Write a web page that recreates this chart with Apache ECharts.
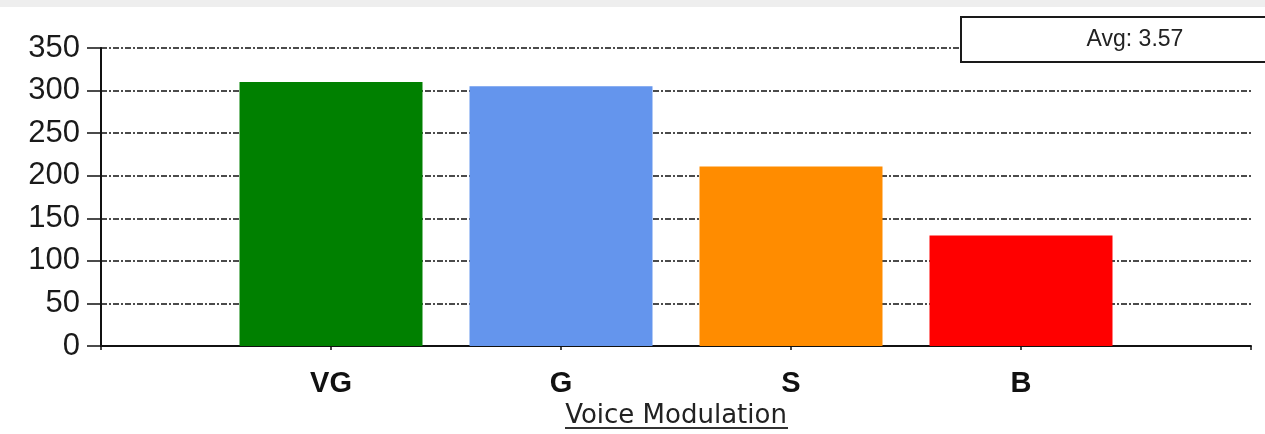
<!DOCTYPE html>
<html><head><meta charset="utf-8">
<script src="https://cdn.jsdelivr.net/npm/echarts@6/dist/echarts.min.js"></script>
<style>html,body{margin:0;padding:0;background:#fff}#c{width:1265px;height:434px}</style>
</head><body><div id="c"></div>
<script>
const categories = ['VG', 'G', 'S', 'B'];
const values = [310, 305, 211, 130];
const barColors = ['#008000', '#6495ED', '#FF8C00', '#FF0000'];
const yTicks = [0, 50, 100, 150, 200, 250, 300, 350];
const axisTitle = 'Voice Modulation';
const legendText = 'Avg: 3.57';

const chart = echarts.init(document.getElementById('c'), null, {renderer: 'canvas'});
const dashGrid = {color: '#111', width: 1.7, type: [6, 2, 2, 2]};
chart.setOption({
  animation: false,
  backgroundColor: '#fff',
  grid: {left: 101, right: 14, top: 48, bottom: 87, containLabel: false},
  xAxis: {
    type: 'value', min: 0, max: categories.length + 1, interval: 1,
    axisLine: {show: true, lineStyle: {color: '#111', width: 2}},
    axisTick: {show: true, length: 4, lineStyle: {color: '#111', width: 1.5}},
    splitLine: {show: false},
    axisLabel: {
      margin: 23, color: '#111', fontFamily: 'Liberation Sans', fontWeight: 'bold', fontSize: 29,
      formatter: v => categories[v - 1] || ''
    },
    name: axisTitle, nameLocation: 'middle', nameGap: 56,
    nameTextStyle: {fontFamily: 'DejaVu Sans', fontSize: 26, color: '#222'}
  },
  yAxis: {
    type: 'value', min: yTicks[0], max: yTicks[yTicks.length - 1], interval: 50,
    axisLine: {show: true, lineStyle: {color: '#111', width: 2}},
    axisTick: {show: true, inside: false, length: 14, lineStyle: {color: '#111', width: 1.5}},
    splitLine: {show: true, lineStyle: dashGrid},
    axisLabel: {margin: 21, color: '#1a1a1a', fontFamily: 'Liberation Sans', fontSize: 31}
  },
  series: [{
    type: 'bar', barWidth: 183,
    data: values.map((v, i) => ({value: [i + 1, v], itemStyle: {color: barColors[i]}}))
  }],
  graphic: [
    {type: 'rect', left: 0, top: 0, shape: {width: 1265, height: 7}, style: {fill: '#eeeeee'}, silent: true},
    {type: 'rect', left: 960, top: 16, shape: {width: 330, height: 45}, style: {fill: '#fff', stroke: '#1a1a1a', lineWidth: 2}, z: 100},
    {type: 'text', x: 1135, y: 40, style: {text: legendText, fill: '#222', font: '23px "Liberation Sans"', align: 'center', verticalAlign: 'middle'}, z: 101},
    {type: 'line', shape: {x1: 565, y1: 428, x2: 788, y2: 428}, style: {stroke: '#333', lineWidth: 2}, z: 101}
  ]
});
</script></body></html>
